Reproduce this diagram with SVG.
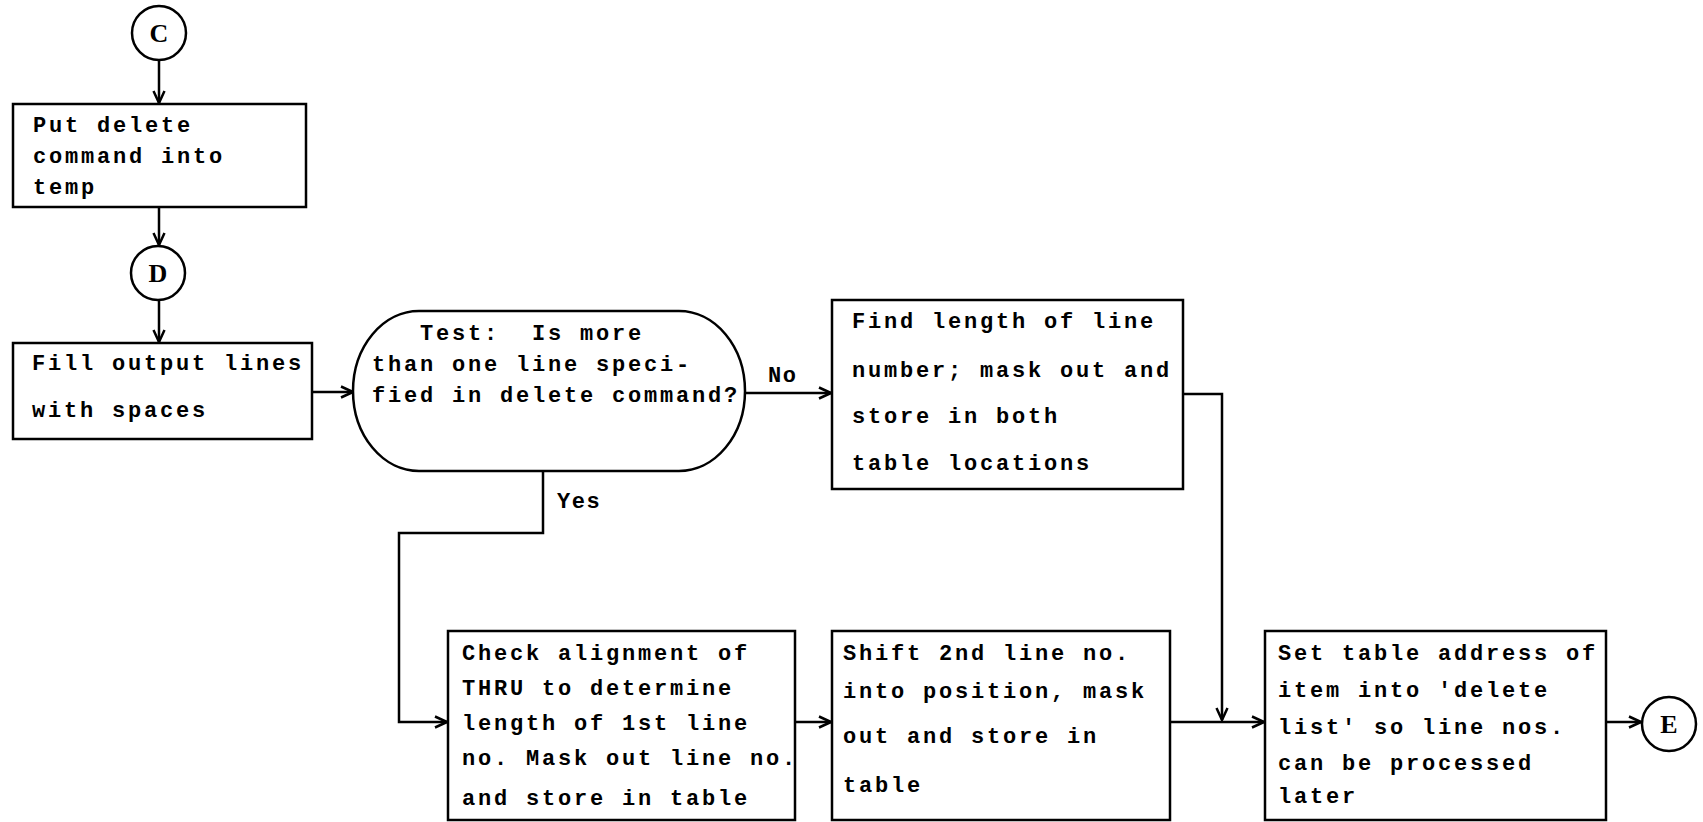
<svg xmlns="http://www.w3.org/2000/svg" width="1703" height="822" viewBox="0 0 1703 822">
  <style>
    .shape { fill: #ffffff; stroke: #000000; stroke-width: 2.5; }
    .line { fill: none; stroke: #000000; stroke-width: 2.5; }
    .t { font-family: "Liberation Mono", "DejaVu Sans Mono", monospace; font-size: 22px; font-weight: bold; letter-spacing: 2.8px; fill: #000000; white-space: pre; }
    .lab { font-family: "Liberation Mono", "DejaVu Sans Mono", monospace; font-size: 22px; font-weight: bold; letter-spacing: 1.5px; fill: #000000; }
    .c { font-family: "Liberation Serif", "DejaVu Serif", serif; font-size: 26px; font-weight: bold; text-anchor: middle; fill: #000000; }
  </style>
  <defs>
    <marker id="arrow" viewBox="0 0 14 14" refX="13" refY="7" markerWidth="14" markerHeight="14" markerUnits="userSpaceOnUse" orient="auto">
      <path d="M1,1.5 L13,7 L1,12.5" fill="none" stroke="#000000" stroke-width="2.5"/>
    </marker>
  </defs>
  <rect width="1703" height="822" fill="#ffffff"/>

  <g id="connectors">
    <line class="line" x1="159" y1="60" x2="159" y2="103" marker-end="url(#arrow)"/>
    <line class="line" x1="159" y1="207" x2="159" y2="245" marker-end="url(#arrow)"/>
    <line class="line" x1="159" y1="300" x2="159" y2="342" marker-end="url(#arrow)"/>
    <line class="line" x1="312" y1="392" x2="353" y2="392" marker-end="url(#arrow)"/>
    <line class="line" x1="745" y1="393" x2="831" y2="393" marker-end="url(#arrow)"/>
    <polyline class="line" points="1183,394 1222,394 1222,720" marker-end="url(#arrow)"/>
    <polyline class="line" points="543,471 543,533 399,533 399,722 447,722" marker-end="url(#arrow)"/>
    <line class="line" x1="795" y1="722" x2="831" y2="722" marker-end="url(#arrow)"/>
    <line class="line" x1="1170" y1="722" x2="1264" y2="722" marker-end="url(#arrow)"/>
    <line class="line" x1="1606" y1="722" x2="1641" y2="722" marker-end="url(#arrow)"/>
    <text class="lab" x="768" y="382">No</text>
    <text class="lab" x="557" y="508">Yes</text>
  </g>

  <g id="node-C">
    <circle class="shape" cx="159" cy="33" r="27"/>
    <text class="c" x="159" y="42">C</text>
  </g>

  <g id="node-put-delete">
    <rect class="shape" x="13" y="104" width="293" height="103"/>
    <text class="t" x="33" y="132">Put delete</text>
    <text class="t" x="33" y="163">command into</text>
    <text class="t" x="33" y="194">temp</text>
  </g>

  <g id="node-D">
    <circle class="shape" cx="158" cy="273" r="27"/>
    <text class="c" x="158" y="282">D</text>
  </g>

  <g id="node-fill">
    <rect class="shape" x="13" y="343" width="299" height="96"/>
    <text class="t" x="32" y="370">Fill output lines</text>
    <text class="t" x="32" y="417">with spaces</text>
  </g>

  <g id="node-test">
    <rect class="shape" x="353" y="311" width="392" height="160" rx="66" ry="80"/>
    <text class="t" x="420" y="340">Test:  Is more</text>
    <text class="t" x="372" y="371">than one line speci-</text>
    <text class="t" x="372" y="402">fied in delete command?</text>
  </g>

  <g id="node-find">
    <rect class="shape" x="832" y="300" width="351" height="189"/>
    <text class="t" x="852" y="328">Find length of line</text>
    <text class="t" x="852" y="377">number; mask out and</text>
    <text class="t" x="852" y="423">store in both</text>
    <text class="t" x="852" y="470">table locations</text>
  </g>

  <g id="node-check">
    <rect class="shape" x="448" y="631" width="347" height="189"/>
    <text class="t" x="462" y="660">Check alignment of</text>
    <text class="t" x="462" y="695">THRU to determine</text>
    <text class="t" x="462" y="730">length of 1st line</text>
    <text class="t" x="462" y="765">no. Mask out line no.</text>
    <text class="t" x="462" y="805">and store in table</text>
  </g>

  <g id="node-shift">
    <rect class="shape" x="832" y="631" width="338" height="189"/>
    <text class="t" x="843" y="660">Shift 2nd line no.</text>
    <text class="t" x="843" y="698">into position, mask</text>
    <text class="t" x="843" y="743">out and store in</text>
    <text class="t" x="843" y="792">table</text>
  </g>

  <g id="node-set">
    <rect class="shape" x="1265" y="631" width="341" height="189"/>
    <text class="t" x="1278" y="660">Set table address of</text>
    <text class="t" x="1278" y="697">item into 'delete</text>
    <text class="t" x="1278" y="734">list' so line nos.</text>
    <text class="t" x="1278" y="770">can be processed</text>
    <text class="t" x="1278" y="803">later</text>
  </g>

  <g id="node-E">
    <circle class="shape" cx="1669" cy="724" r="27"/>
    <text class="c" x="1669" y="733">E</text>
  </g>
</svg>
